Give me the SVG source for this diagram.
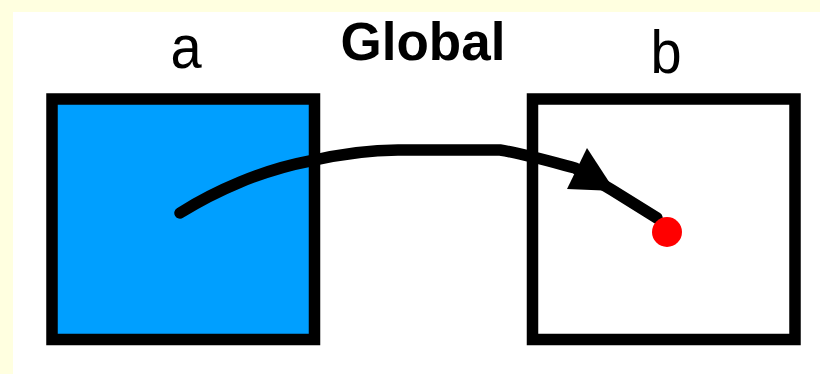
<svg xmlns="http://www.w3.org/2000/svg" width="820" height="374" viewBox="0 0 820 374">
  <style>
    .box { stroke: #000; stroke-width: 11.5; }
    .label { font-family: "Liberation Sans", Arial, sans-serif; fill: #000; text-anchor: middle; }
    .link { fill: none; stroke: #000; stroke-width: 11.5; stroke-linecap: round; stroke-linejoin: round; }
  </style>
  <!-- page background with pale frame on top and left -->
  <rect x="0" y="0" width="820" height="374" fill="#FFFFE0"/>
  <rect x="13" y="12" width="807" height="362" fill="#FFFFFF"/>

  <text class="label" x="423" y="60" font-size="53" font-weight="bold">Global</text>

  <g id="node-a">
    <rect class="box" x="52" y="99" width="262.5" height="240.5" fill="#009FFF"/>
    <!-- node letters are slightly tall and narrow -->
    <text class="label" font-size="56" transform="translate(186,67.5) scale(1,1.1)">a</text>
  </g>

  <g id="node-b">
    <rect class="box" x="532.5" y="99" width="262.5" height="240.5" fill="#FFFFFF"/>
    <text class="label" font-size="56" transform="translate(666,72.5) scale(1,1.1)">b</text>
  </g>

  <g id="connectors">
    <path class="link" d="M180,213 C215,191 262,170 310,161 C345,153 372,150 398,150 L500,150 C520,153 545,160 575,168 L612,190 L657,218"/>
    <polygon points="587,148 567,189 615,191" fill="#000"/>
    <circle cx="667" cy="232" r="15" fill="#FF0000"/>
  </g>
</svg>
